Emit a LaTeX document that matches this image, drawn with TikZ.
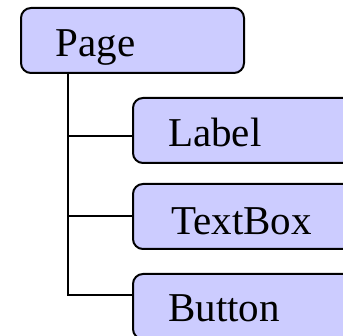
\documentclass[tikz,border=0pt]{standalone}
\usepackage{fontspec}
\setmainfont{Liberation Serif}
\definecolor{boxfill}{HTML}{CCCCFF}
\begin{document}
\begin{tikzpicture}[x=1pt,y=1pt,
  box/.style={draw=black, line width=2pt, fill=boxfill, rounded corners=10pt,
    anchor=north west, inner sep=0pt, minimum height=65pt},
  txt/.style={anchor=base west, inner sep=0pt, font=\fontsize{41}{48}\selectfont},
  conn/.style={draw=black, line width=2.2pt}]
\useasboundingbox (0,0) rectangle (343,-336);
\clip (0,0) rectangle (343,-336);
\node[box, minimum width=223pt] (page) at (20,-7) {};
\node[txt] (pagetext) at (55.5,-57) {Page};
\node[box, minimum width=240pt] (label) at (132,-97) {};
\node[txt] (labeltext) at (168,-147) {Label};
\node[box, minimum width=240pt] (textbox) at (132,-183) {};
\node[txt] (textboxtext) at (171,-235) {TextBox};
\node[box, minimum width=240pt] (button) at (132,-273) {};
\node[txt] (buttontext) at (168,-322) {Button};
\coordinate (t0) at (68,-72);
\coordinate (j1) at (68,-136);
\coordinate (j2) at (68,-216);
\coordinate (j3) at (68,-295);
\draw[conn] (t0) -- (j3) -- (button.west |- j3);
\draw[conn] (j1) -- (label.west |- j1);
\draw[conn] (j2) -- (textbox.west |- j2);
\end{tikzpicture}
\end{document}
